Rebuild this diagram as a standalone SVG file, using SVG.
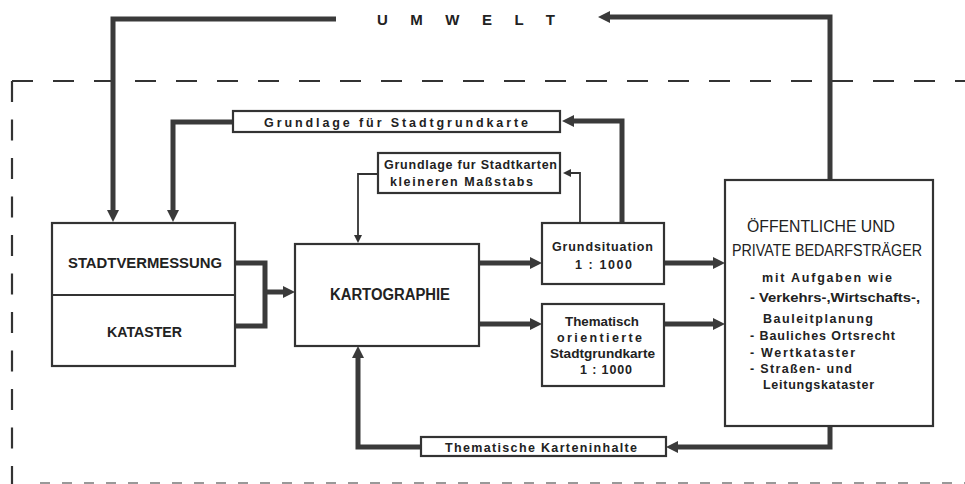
<svg xmlns="http://www.w3.org/2000/svg" width="965" height="484" viewBox="0 0 965 484">
<style>
.box{fill:#fff;stroke:#333;stroke-width:2.2}
.thick{fill:none;stroke:#3a3a3a;stroke-width:5;stroke-linejoin:miter}
.thin{fill:none;stroke:#333;stroke-width:1.8}
.dash{fill:none;stroke:#333;stroke-width:2.2}
text{font-family:"Liberation Sans",Arial,sans-serif;font-weight:bold;fill:#222}
.big{font-size:15px}
.lbl{font-size:12.5px}
.mid{font-size:12.5px}
.reg{font-weight:normal;font-size:16px}
</style>
<defs>
<marker id="ah" markerUnits="userSpaceOnUse" markerWidth="12" markerHeight="12" viewBox="0 0 12 12" refX="4" refY="6" orient="auto">
<path d="M0,0 L12,6 L0,12 z" fill="#3a3a3a"/>
</marker>
<marker id="as" markerUnits="userSpaceOnUse" markerWidth="8" markerHeight="8" viewBox="0 0 8 8" refX="3" refY="4" orient="auto">
<path d="M0,0 L8,4 L0,8 z" fill="#333"/>
</marker>
</defs>
<rect width="965" height="484" fill="#fff"/>
<g id="boundary">
<path class="dash" d="M12,81 H965" stroke-dasharray="21 20"/>
<path class="dash" d="M12,81 V484" stroke-dasharray="21 17.5"/>
<path d="M40,483 H965" stroke="#999" stroke-width="1.8" stroke-dasharray="10 12" fill="none"/>
</g>
<g id="connectors">
<path class="thick" d="M336,19 H113 V214" marker-end="url(#ah)"/>
<path class="thick" d="M233,122 H173 V214" marker-end="url(#ah)"/>
<path class="thick" d="M622,223 V121 H570" marker-end="url(#ah)"/>
<path class="thin" d="M580,223 V173 H568" marker-end="url(#as)"/>
<path class="thin" d="M378,174 H358 V238" marker-end="url(#as)"/>
<path class="thick" d="M235,263 H265 V326 H235"/>
<path class="thick" d="M265,292 H287" marker-end="url(#ah)"/>
<path class="thick" d="M479,263 H534" marker-end="url(#ah)"/>
<path class="thick" d="M479,324 H534" marker-end="url(#ah)"/>
<path class="thick" d="M664,263 H717" marker-end="url(#ah)"/>
<path class="thick" d="M664,324 H717" marker-end="url(#ah)"/>
<path class="thick" d="M830,180 V17 H606" marker-end="url(#ah)"/>
<path class="thick" d="M830,426 V447 H674" marker-end="url(#ah)"/>
<path class="thick" d="M421,447 H358 V354" marker-end="url(#ah)"/>
</g>
<g id="umwelt">
<text x="377" y="24.5" font-size="15" textLength="178" lengthAdjust="spacing">U M W E L T</text>
</g>
<g id="label-stadtgrundkarte">
<rect class="box" x="233" y="111" width="327" height="21"/>
<text class="lbl" x="264" y="126.5" textLength="264" lengthAdjust="spacing">Grundlage für Stadtgrundkarte</text>
</g>
<g id="label-kleinere">
<rect class="box" x="378" y="153" width="182" height="40"/>
<text class="lbl" x="384" y="169" textLength="173" lengthAdjust="spacing">Grundlage fur Stadtkarten</text>
<text class="lbl" x="390" y="186" textLength="143" lengthAdjust="spacing">kleineren Maßstabs</text>
</g>
<g id="stadtvermessung">
<rect class="box" x="52" y="223" width="183" height="143"/>
<line x1="52" y1="295" x2="235" y2="295" stroke="#333" stroke-width="1.8"/>
<text class="big" x="68" y="267.5" textLength="154" lengthAdjust="spacingAndGlyphs">STADTVERMESSUNG</text>
<text class="big" x="107" y="336.5" textLength="75" lengthAdjust="spacingAndGlyphs">KATASTER</text>
</g>
<g id="kartographie">
<rect class="box" x="295" y="244" width="184" height="102"/>
<text x="330" y="300" font-size="16" textLength="120" lengthAdjust="spacingAndGlyphs">KARTOGRAPHIE</text>
</g>
<g id="grundsituation">
<rect class="box" x="542" y="223" width="122" height="61"/>
<text class="lbl" x="552" y="250.5" textLength="101" lengthAdjust="spacing">Grundsituation</text>
<text class="lbl" x="575" y="268.5" textLength="57" lengthAdjust="spacing">1 : 1000</text>
</g>
<g id="thematisch">
<rect class="box" x="542" y="304" width="122" height="82"/>
<text class="lbl" x="565" y="325.5" textLength="74" lengthAdjust="spacingAndGlyphs">Thematisch</text>
<text class="lbl" x="557" y="341.5" textLength="85" lengthAdjust="spacing">orientierte</text>
<text class="lbl" x="550" y="357.5" textLength="105" lengthAdjust="spacingAndGlyphs">Stadtgrundkarte</text>
<text class="lbl" x="580" y="373.5" textLength="52" lengthAdjust="spacing">1 : 1000</text>
</g>
<g id="bedarfstraeger">
<rect class="box" x="725" y="180" width="208" height="246"/>
<text class="reg" x="747" y="232" textLength="148" lengthAdjust="spacingAndGlyphs">ÖFFENTLICHE UND</text>
<text class="reg" x="732" y="256" textLength="190" lengthAdjust="spacingAndGlyphs">PRIVATE BEDARFSTRÄGER</text>
<text class="mid" x="762" y="281.5" textLength="130" lengthAdjust="spacing">mit Aufgaben wie</text>
<text class="mid" x="750" y="301.5" textLength="170" lengthAdjust="spacingAndGlyphs">- Verkehrs-,Wirtschafts-,</text>
<text class="mid" x="763" y="323" textLength="110" lengthAdjust="spacing">Bauleitplanung</text>
<text class="mid" x="750" y="340" textLength="145" lengthAdjust="spacing">- Bauliches Ortsrecht</text>
<text class="mid" x="750" y="357" textLength="105" lengthAdjust="spacing">- Wertkataster</text>
<text class="mid" x="750" y="373" textLength="102" lengthAdjust="spacing">- Straßen- und</text>
<text class="mid" x="763" y="389" textLength="111" lengthAdjust="spacing">Leitungskataster</text>
</g>
<g id="label-karteninhalte">
<rect class="box" x="421" y="437" width="245" height="19"/>
<text class="lbl" x="445" y="451.5" textLength="192" lengthAdjust="spacing">Thematische Karteninhalte</text>
</g>
</svg>
